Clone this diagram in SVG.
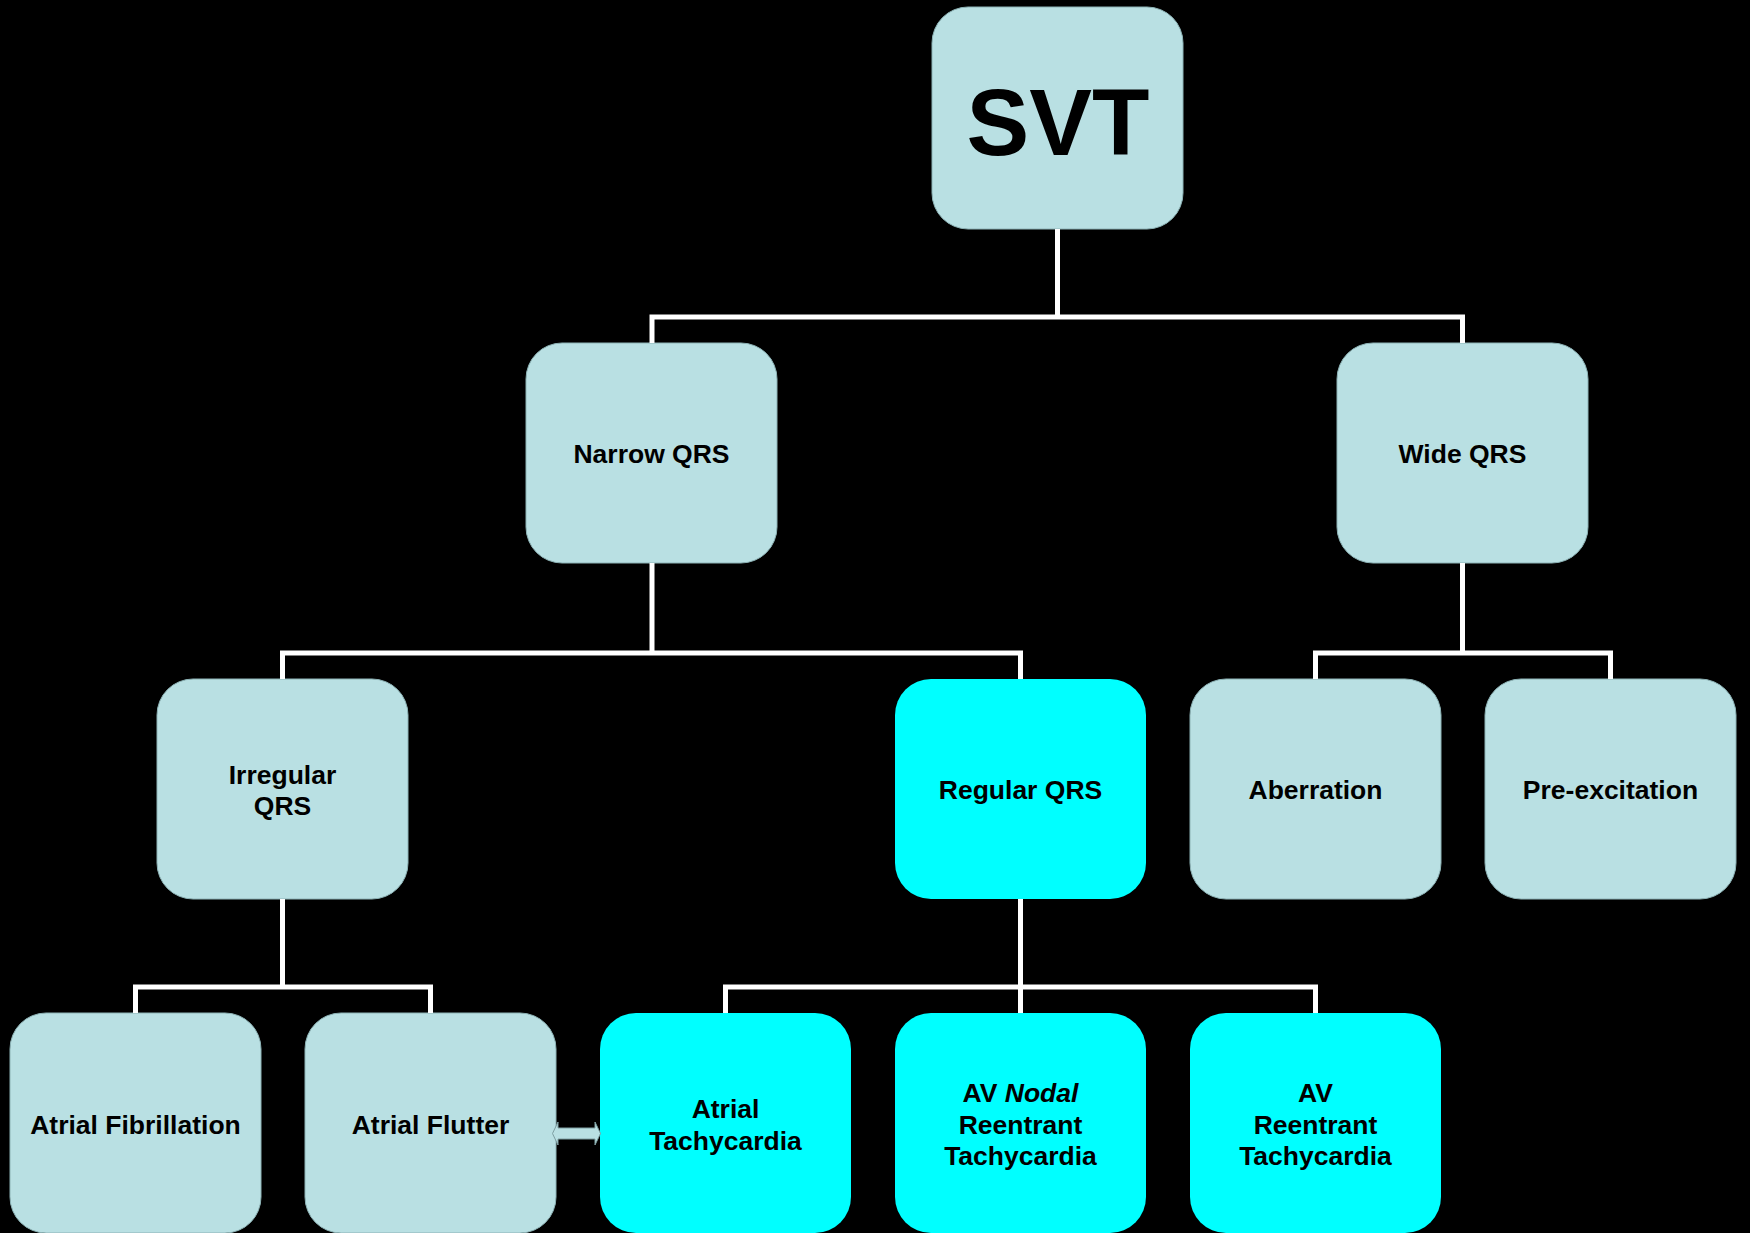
<svg xmlns="http://www.w3.org/2000/svg" width="1750" height="1233" viewBox="0 0 1750 1233">
<style>
.bg{fill:#000}
.lb{fill:#B9E0E3;stroke:#8DB3B6;stroke-width:1}
.cy{fill:#00FFFF}
.t{font-family:"Liberation Sans",Arial,sans-serif;font-weight:bold;font-size:26.5px;fill:#000;text-anchor:middle}
.big{font-size:94px}
.conn{stroke:#fff;stroke-width:5;fill:none}
</style>
<rect class="bg" x="0" y="0" width="1750" height="1233"/>
<g id="svt"><rect class="lb" x="932" y="7" width="251" height="222" rx="36"/><text class="t big" x="1058" y="155">SVT</text></g>
<g id="narrow"><rect class="lb" x="526" y="343" width="251" height="220" rx="36"/><text class="t" x="651.5" y="463">Narrow QRS</text></g>
<g id="wide"><rect class="lb" x="1337" y="343" width="251" height="220" rx="36"/><text class="t" x="1462.5" y="463">Wide QRS</text></g>
<g id="irregular"><rect class="lb" x="157" y="679" width="251" height="220" rx="36"/><text class="t" x="282.5" y="784">Irregular</text><text class="t" x="282.5" y="815">QRS</text></g>
<g id="regular"><rect class="cy" x="895" y="679" width="251" height="220" rx="36"/><text class="t" x="1020.5" y="798.5">Regular QRS</text></g>
<g id="aberration"><rect class="lb" x="1190" y="679" width="251" height="220" rx="36"/><text class="t" x="1315.5" y="798.5">Aberration</text></g>
<g id="preexcitation"><rect class="lb" x="1485" y="679" width="251" height="220" rx="36"/><text class="t" x="1610.5" y="798.5">Pre-excitation</text></g>
<g id="afib"><rect class="lb" x="10" y="1013" width="251" height="220" rx="36"/><text class="t" x="135.5" y="1134">Atrial Fibrillation</text></g>
<g id="aflutter"><rect class="lb" x="305" y="1013" width="251" height="220" rx="36"/><text class="t" x="430.5" y="1134">Atrial Flutter</text></g>
<g id="atach"><rect class="cy" x="600" y="1013" width="251" height="220" rx="36"/><text class="t" x="725.5" y="1118">Atrial</text><text class="t" x="725.5" y="1150">Tachycardia</text></g>
<g id="avnrt"><rect class="cy" x="895" y="1013" width="251" height="220" rx="36"/><text class="t" x="1020.5" y="1102">AV <tspan font-style="italic">Nodal</tspan></text><text class="t" x="1020.5" y="1134">Reentrant</text><text class="t" x="1020.5" y="1165">Tachycardia</text></g>
<g id="avrt"><rect class="cy" x="1190" y="1013" width="251" height="220" rx="36"/><text class="t" x="1315.5" y="1102">AV</text><text class="t" x="1315.5" y="1134">Reentrant</text><text class="t" x="1315.5" y="1165">Tachycardia</text></g>
<g id="connectors">
<path class="conn" d="M1057.5 229V317M652 317H1462.5M652 314.5V343M1462.5 314.5V343"/>
<path class="conn" d="M652 563V653M282.5 653H1020.5M282.5 650.5V679M1020.5 650.5V679"/>
<path class="conn" d="M1462.5 563V653M1315.5 653H1610.5M1315.5 650.5V679M1610.5 650.5V679"/>
<path class="conn" d="M282.5 899V987M135.5 987H430.5M135.5 984.5V1013M430.5 984.5V1013"/>
<path class="conn" d="M1020.5 899V1013M725.5 987H1315.5M725.5 984.5V1013M1315.5 984.5V1013"/>
<path id="dbl-arrow" d="M552.5 1133.5L558 1122V1128H595V1122L600.5 1133.5L595 1145V1139H558V1145Z" fill="#B9E0E3" stroke="#7E9FA2" stroke-width="1"/>
</g>
</svg>
